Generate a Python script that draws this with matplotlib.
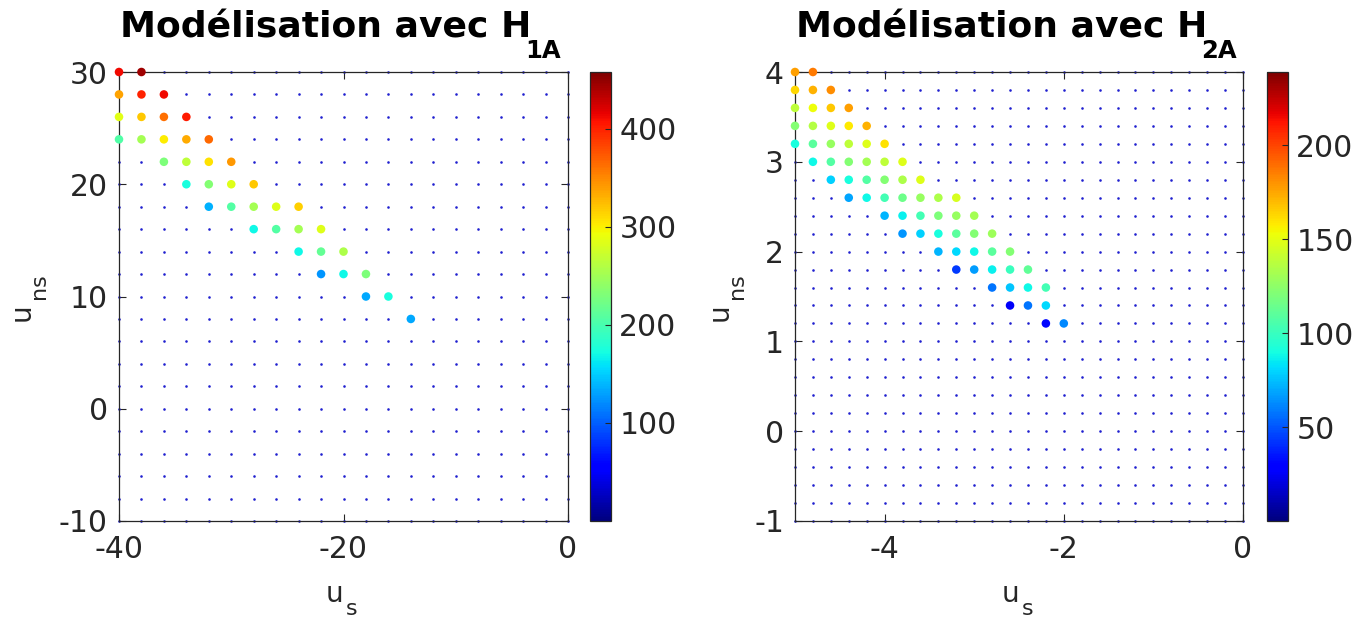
import numpy as np
import matplotlib
matplotlib.use("Agg")
import matplotlib.pyplot as plt
from matplotlib.colors import Normalize

plt.rcParams['font.family'] = ['DejaVu Sans']
plt.rcParams['axes.unicode_minus'] = False

# ---------------- data: panel 1 (H_1A) ----------------
grid1_us = np.arange(-40, 0.001, 2)
grid1_uns = np.arange(-10, 30.001, 2)
p1_us = [-40, -38,
         -40, -38, -36,
         -40, -38, -36, -34,
         -40, -38, -36, -34, -32,
         -36, -34, -32, -30,
         -34, -32, -30, -28,
         -32, -30, -28, -26, -24,
         -28, -26, -24, -22,
         -24, -22, -20,
         -22, -20, -18,
         -18, -16,
         -14]
p1_uns = [30, 30,
          28, 28, 28,
          26, 26, 26, 26,
          24, 24, 24, 24, 24,
          22, 22, 22, 22,
          20, 20, 20, 20,
          18, 18, 18, 18, 18,
          16, 16, 16, 16,
          14, 14, 14,
          12, 12, 12,
          10, 10,
          8]
p1_val = [412, 445,
          337, 400, 412,
          285, 320, 362, 403,
          205, 252, 302, 334, 366,
          229, 265, 306, 343,
          174, 234, 284, 320,
          137, 206, 252, 284, 316,
          169, 206, 252, 284,
          169, 215, 256,
          124, 169, 229,
          133, 174,
          133]
p1_clim = (0, 458)
p1_xticks = [-40, -20, 0]
p1_yticks = [-10, 0, 10, 20, 30]
p1_cticks = [100, 200, 300, 400]

# ---------------- data: panel 2 (H_2A) ----------------
grid2_us = np.arange(-5.0, 0.001, 0.2)
grid2_uns = np.arange(-1.0, 4.001, 0.2)
p2_us = [-5.0, -4.8,
         -5.0, -4.8, -4.6,
         -5.0, -4.8, -4.6, -4.4,
         -5.0, -4.8, -4.6, -4.4, -4.2,
         -5.0, -4.8, -4.6, -4.4, -4.2, -4.0,
         -4.8, -4.6, -4.4, -4.2, -4.0, -3.8,
         -4.6, -4.4, -4.2, -4.0, -3.8, -3.6,
         -4.4, -4.2, -4.0, -3.8, -3.6, -3.4, -3.2,
         -4.0, -3.8, -3.6, -3.4, -3.2, -3.0,
         -3.8, -3.6, -3.4, -3.2, -3.0, -2.8,
         -3.4, -3.2, -3.0, -2.8, -2.6,
         -3.2, -3.0, -2.8, -2.6, -2.4,
         -2.8, -2.6, -2.4, -2.2,
         -2.6, -2.4, -2.2,
         -2.2, -2.0]
p2_uns = [4.0, 4.0,
          3.8, 3.8, 3.8,
          3.6, 3.6, 3.6, 3.6,
          3.4, 3.4, 3.4, 3.4, 3.4,
          3.2, 3.2, 3.2, 3.2, 3.2, 3.2,
          3.0, 3.0, 3.0, 3.0, 3.0, 3.0,
          2.8, 2.8, 2.8, 2.8, 2.8, 2.8,
          2.6, 2.6, 2.6, 2.6, 2.6, 2.6, 2.6,
          2.4, 2.4, 2.4, 2.4, 2.4, 2.4,
          2.2, 2.2, 2.2, 2.2, 2.2, 2.2,
          2.0, 2.0, 2.0, 2.0, 2.0,
          1.8, 1.8, 1.8, 1.8, 1.8,
          1.6, 1.6, 1.6, 1.6,
          1.4, 1.4, 1.4,
          1.2, 1.2]
p2_val = [177, 186,
          163, 172, 182,
          139, 153, 167, 177,
          122, 136, 148, 158, 172,
          91, 110, 127, 139, 148, 160,
          88, 108, 122, 131, 139, 148,
          79, 91, 108, 122, 134, 148,
          69, 88, 103, 115, 127, 134, 146,
          72, 86, 103, 120, 127, 131,
          65, 79, 91, 110, 122, 129,
          72, 81, 88, 110, 122,
          43, 67, 86, 100, 112,
          57, 76, 88, 103,
          26, 57, 81,
          31, 62]
p2_clim = (0, 239)
p2_xticks = [-4, -2, 0]
p2_yticks = [-1, 0, 1, 2, 3, 4]
p2_cticks = [50, 100, 150, 200]

title_main = "Modélisation avec H"
title_subs = ["1A", "2A"]
xlabel_main, xlabel_sub = "u", "s"
ylabel_main, ylabel_sub = "u", "ns"

# ---------------- figure ----------------
W, H = 1354, 617
fig = plt.figure(figsize=(W / 100, H / 100), dpi=100)
dark = '#262626'
cmap = plt.get_cmap('jet')

def px(x0, y0, w, h):
    return [x0 / W, (H - y0 - h) / H, w / W, h / H]

def ftext(x, y, s, **kw):
    # x, y in pixels from top-left of the figure
    return fig.text(x / W, (H - y) / H, s, **kw)

panels = [
    dict(gx=grid1_us, gy=grid1_uns, us=p1_us, uns=p1_uns, val=p1_val, clim=p1_clim,
         xt=p1_xticks, yt=p1_yticks, ct=p1_cticks, xl=(-40, 0), yl=(-10, 30),
         ax=px(119, 72, 449, 449), cax=px(590, 72, 21, 449), dx=0),
    dict(gx=grid2_us, gy=grid2_uns, us=p2_us, uns=p2_uns, val=p2_val, clim=p2_clim,
         xt=p2_xticks, yt=p2_yticks, ct=p2_cticks, xl=(-5, 0), yl=(-1, 4),
         ax=px(795, 72, 448, 449), cax=px(1267, 72, 21, 449), dx=676),
]

for i, p in enumerate(panels):
    ax = fig.add_axes(p['ax'])
    GX, GY = np.meshgrid(p['gx'], p['gy'])
    ax.scatter(GX.ravel(), GY.ravel(), s=3.5, c='#2020d0', linewidths=0, clip_on=False, zorder=2)
    norm = Normalize(vmin=p['clim'][0], vmax=p['clim'][1])
    sc = ax.scatter(p['us'], p['uns'], c=p['val'], cmap=cmap, norm=norm, s=38,
                    linewidths=0, clip_on=False, zorder=3)
    ax.set_xlim(*p['xl'])
    ax.set_ylim(*p['yl'])
    ax.set_xticks(p['xt'])
    ax.set_yticks(p['yt'])
    ax.tick_params(direction='in', length=5, width=0.8, colors=dark, labelsize=21.5,
                   top=True, right=True)
    ax.tick_params(axis='x', pad=10)
    ax.tick_params(axis='y', pad=8)
    for s in ax.spines.values():
        s.set_color(dark)
        s.set_linewidth(0.9)

    dx = p['dx']
    # title with lowered subscript
    ftext(531 + dx, 37, title_main, fontsize=26, fontweight='bold', color='black',
          ha='right', va='baseline')
    ftext(525 + dx, 58, title_subs[i], fontsize=17.5, fontweight='bold', color='black',
          ha='left', va='baseline')
    # x label
    ftext(326 + dx, 602, xlabel_main, fontsize=20, color=dark, ha='left', va='baseline')
    ftext(346 + dx, 615, xlabel_sub, fontsize=16, color=dark, ha='left', va='baseline')
    # y label (rotated)
    ylx = [30, 728][i]
    ftext(ylx, 321, ylabel_main, fontsize=20, color=dark, rotation=90,
          rotation_mode='anchor', ha='left', va='baseline')
    ftext(ylx + 15, 299, ylabel_sub, fontsize=16, color=dark, rotation=90,
          rotation_mode='anchor', ha='left', va='baseline')

    cax = fig.add_axes(p['cax'])
    cb = fig.colorbar(sc, cax=cax)
    cb.set_ticks(p['ct'])
    cb.ax.tick_params(direction='in', length=4, width=0.8, colors=dark, labelsize=21.5, pad=6)
    cb.outline.set_edgecolor(dark)
    cb.outline.set_linewidth(0.9)

fig.savefig('out.png', dpi=100, facecolor='white')
